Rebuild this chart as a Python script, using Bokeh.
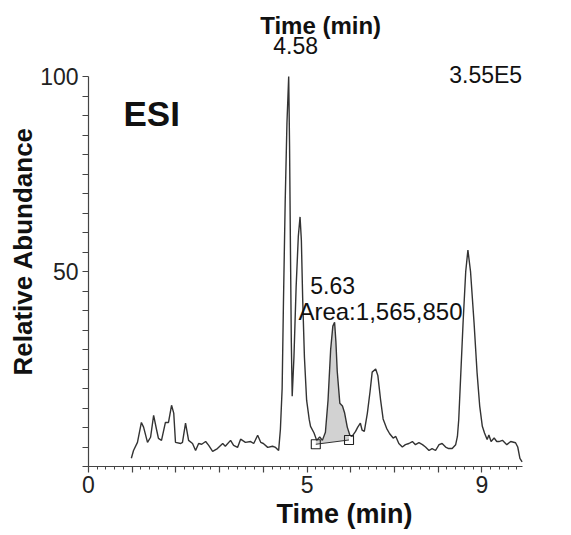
import numpy as np
from bokeh.plotting import figure
from bokeh.models import FixedTicker, Label, Title
from bokeh.embed import file_html
from bokeh.resources import INLINE

# ---- data ----
time_min = [0.98, 1.03, 1.12, 1.21, 1.26, 1.35, 1.42, 1.49, 1.56, 1.60, 1.67, 1.76, 1.83, 1.90, 1.95,
            1.99, 2.11, 2.15, 2.22, 2.29, 2.38, 2.45, 2.52, 2.59, 2.68, 2.75, 2.84, 2.95, 3.07, 3.13,
            3.25, 3.32, 3.41, 3.48, 3.59, 3.71, 3.78, 3.87, 3.94, 4.00, 4.10, 4.21, 4.28, 4.35,
            4.39, 4.43, 4.46, 4.50, 4.54, 4.58, 4.60, 4.62, 4.64, 4.66, 4.70, 4.75, 4.80, 4.84,
            4.87, 4.90, 4.94, 4.99, 5.05, 5.08, 5.16, 5.22, 5.29, 5.35, 5.42, 5.48, 5.54, 5.59,
            5.63, 5.66, 5.69, 5.75, 5.81, 5.86, 5.92, 5.98, 6.03, 6.11, 6.16, 6.22, 6.26, 6.31,
            6.38, 6.44, 6.49, 6.57, 6.62, 6.68, 6.74, 6.82, 6.89, 6.97, 7.03, 7.10, 7.18, 7.25,
            7.33, 7.41, 7.48, 7.56, 7.64, 7.71, 7.79, 7.86, 7.94, 8.02, 8.09, 8.17, 8.24, 8.32,
            8.40, 8.44, 8.47, 8.51, 8.57, 8.63, 8.68, 8.74, 8.82, 8.89, 8.95, 9.01, 9.06, 9.12,
            9.16, 9.21, 9.28, 9.34, 9.39, 9.47, 9.57, 9.66, 9.77, 9.82, 9.87, 9.92]
abundance = [2.1, 4.1, 6.2, 11.3, 10.1, 6.2, 7.5, 13.1, 9.3, 7.2, 6.7, 11.3, 11.3, 15.7, 13.7,
             6.2, 5.9, 6.2, 11.1, 6.7, 5.9, 4.1, 5.9, 5.7, 6.4, 5.4, 3.9, 4.6, 5.9, 5.2,
             6.7, 5.4, 4.9, 7.0, 6.2, 6.4, 5.9, 8.0, 6.2, 5.9, 4.9, 5.2, 4.9, 4.1,
             9.5, 20, 42, 68, 88, 100, 82, 56, 32, 18, 28, 46, 59, 64,
             58, 43, 28, 17, 12, 10.3, 8.6, 6.7, 7.6, 6.7, 8.8, 17, 30, 36,
             37, 32, 24.5, 16.2, 15.5, 13.7, 10.1, 8.0, 7.7, 9.0, 10.1, 11.1, 9.3, 9.0,
             13.7, 19.1, 24.2, 25, 23.3, 17.3, 12.2, 9.8, 8.4, 7.3, 7.7, 5.9, 5.0, 5.6,
             5.9, 6.4, 5.6, 6.1, 5.6, 5.0, 4.1, 4.6, 4.1, 5.6, 5.9, 5.0, 4.6, 4.6,
             5.6, 7.7, 12, 22, 37, 50, 55.5, 50, 37, 24, 15.5, 10.3, 8.6, 6.9,
             8.1, 6.4, 7.3, 6.4, 6.4, 6.7, 5.6, 6.4, 6.1, 5.0, 2.1, 1.2]

integ_time = [5.20, 5.96]          # integration start / end (min)
integ_level = [5.7, 6.8]           # baseline level at the markers

x_major = [0, 1, 2, 3, 4, 5, 6, 7, 8, 9]
x_labels = {0: "0", 5: "5", 9: "9"}
y_major = list(range(0, 101, 5))
y_labels = {50: "50", 100: "100"}

peak_rt = 4.58
peak_rt_label = "4.58"
scale_label = "3.55E5"
ion_label = "ESI"
sel_rt = 5.63
sel_rt_label = "5.63"
area_label = "Area:1,565,850"
x_title = "Time (min)"
y_title = "Relative Abundance"

FONT = "Liberation Sans"
AX = "#444444"

p = figure(width=571, height=535, x_range=(0, 11.05), y_range=(0, 119.5),
           output_backend="svg", toolbar_location=None,
           min_border_left=88, min_border_right=0, min_border_top=0, min_border_bottom=69)
p.outline_line_color = None
p.xgrid.visible = False
p.ygrid.visible = False
p.background_fill_color = "white"
p.border_fill_color = "white"

# integrated peak fill
t = np.array(time_min)
a = np.array(abundance)
ft = np.concatenate([[integ_time[0]], t[(t > integ_time[0]) & (t < integ_time[1])], [integ_time[1]]])
fa = np.interp(ft, t, a)
fb = np.interp(ft, integ_time, integ_level)
p.varea(x=ft, y1=fb, y2=fa, fill_color="#d2d2d2")

p.line(time_min, abundance, line_color="#333333", line_width=1.4)
p.line(integ_time, integ_level, line_color="#333333", line_width=1)
p.scatter(integ_time, integ_level, marker="square", size=9, fill_color=None,
          line_color="#222222", line_width=1.1)

# axes
xa = p.xaxis[0]
xa.ticker = FixedTicker(ticks=x_major, minor_ticks=[i / 5 for i in range(0, 50)])
xa.major_label_overrides = {k: x_labels.get(k, "") for k in x_major}
xa.bounds = (0, 9.92)
ya = p.yaxis[0]
ya.ticker = FixedTicker(ticks=y_major, minor_ticks=[])
ya.major_label_overrides = {k: y_labels.get(k, "") for k in y_major}
ya.bounds = (0, 100)
for ax in (xa, ya):
    ax.axis_line_color = AX
    ax.axis_line_width = 1.2
    ax.major_tick_line_color = AX
    ax.major_tick_line_width = 1.2
    ax.major_tick_in = 0
    ax.major_tick_out = 6
    ax.minor_tick_line_color = AX
    ax.minor_tick_line_width = 1
    ax.minor_tick_in = 0
    ax.minor_tick_out = 3
    ax.major_label_text_font = FONT
    ax.major_label_text_font_size = "23px"
    ax.major_label_text_color = "#222222"
xa.major_label_standoff = 3
ya.major_label_standoff = 4

p.add_layout(Title(text=x_title, align="left", offset=188, text_font=FONT,
                   text_font_size="27px", text_font_style="bold", text_color="#111111",
                   standoff=2), "below")
p.add_layout(Title(text=y_title, align="left", offset=91, text_font=FONT,
                   text_font_size="26px", text_font_style="bold", text_color="#111111",
                   standoff=0), "left")


def lab(x, y, text, size, bold=False, align="center", dx=0):
    p.add_layout(Label(x=x, y=y, text=text, text_font=FONT, text_font_size=size,
                       text_font_style="bold" if bold else "normal", text_color="#111111",
                       text_align=align, text_baseline="middle", x_offset=dx))


lab(5.31, 113.0, x_title, "24px", bold=True)
lab(peak_rt, 108.0, peak_rt_label, "23px", dx=7)
lab(9.92, 100.3, scale_label, "23px", align="right")
lab(0.80, 90.5, ion_label, "35px", bold=True, align="left")
lab(sel_rt, 46.4, sel_rt_label, "23px", dx=-2)
lab(6.68, 39.7, area_label, "24px")

open("out.html", "w").write(file_html(p, INLINE))
